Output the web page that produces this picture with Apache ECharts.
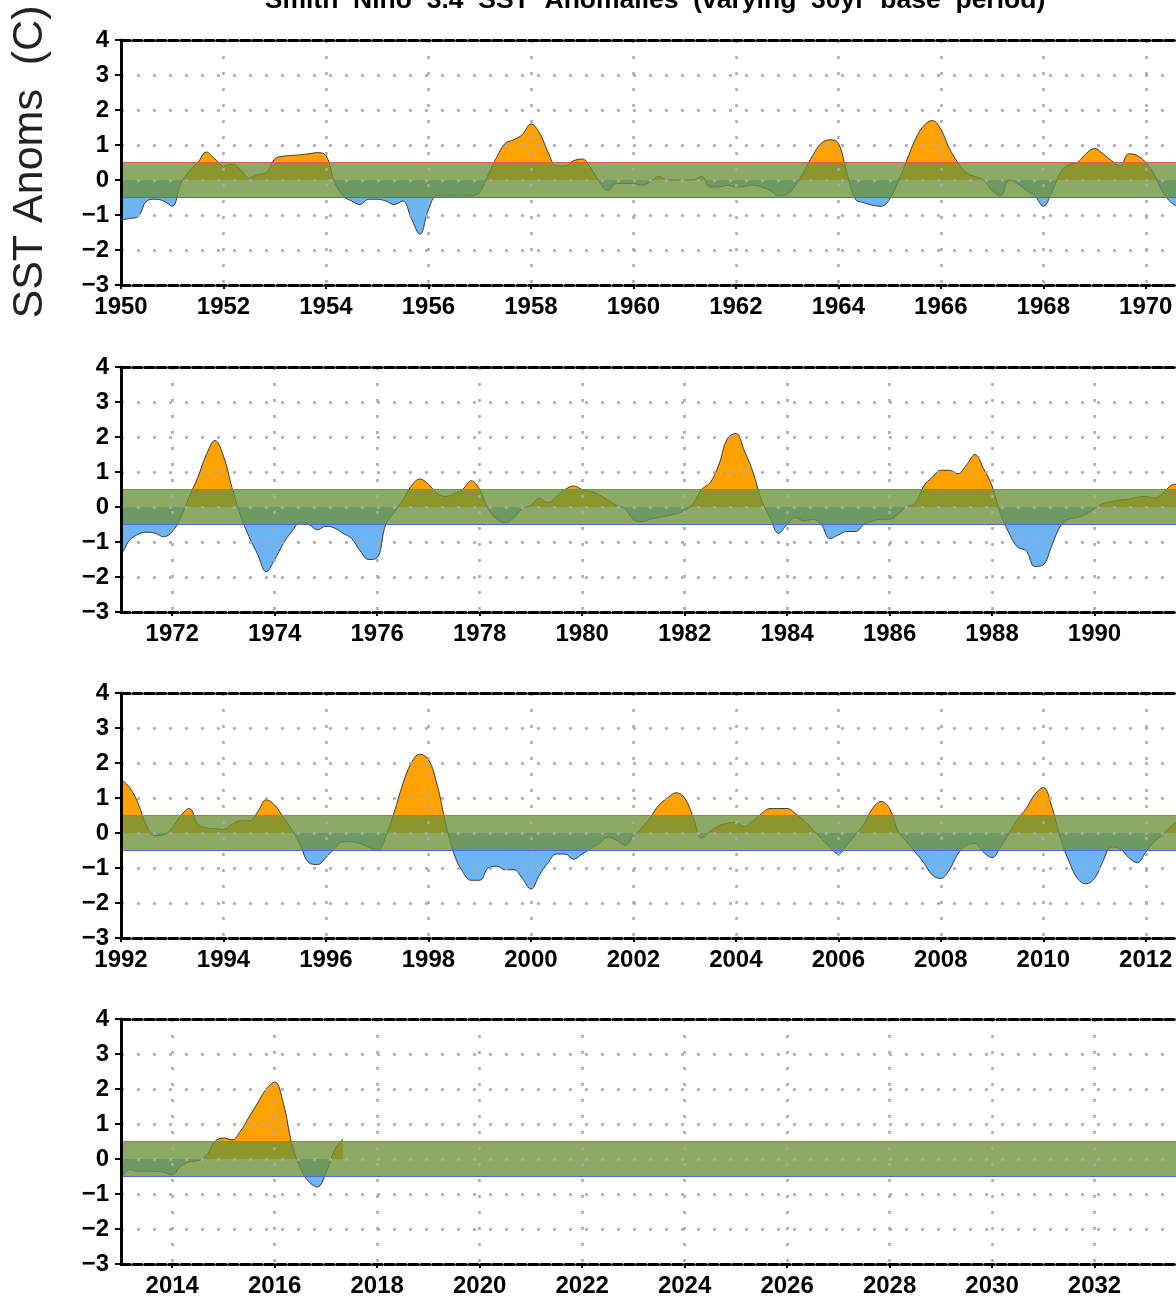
<!DOCTYPE html>
<html>
<head>
<meta charset="UTF-8">
<title>Smith Nino 3.4 SST Anomalies</title>
<script src="https://cdn.jsdelivr.net/npm/echarts@6/dist/echarts.min.js"></script>
<style>
  html, body { margin: 0; padding: 0; background: #fff; }
  #chart { width: 1176px; height: 1303px; }
</style>
</head>
<body>
<div id="chart"></div>
<script>
// Nino 3.4 SST anomalies (C), every two months (Jan, Mar, May, Jul, Sep, Nov)
var anom1950 = [
  -1.15, -1.1, -1.05, -0.6, -0.55, -0.6,   // 1950
  -0.75, -0.1, 0.25, 0.5, 0.8, 0.6,        // 1951
  0.4, 0.45, 0.3, 0.05, 0.15, 0.2,         // 1952
  0.6, 0.68, 0.7, 0.72, 0.75, 0.78,        // 1953
  0.7, -0.05, -0.45, -0.6, -0.7, -0.55,    // 1954
  -0.55, -0.6, -0.7, -0.6, -1.1, -1.55,    // 1955
  -0.85, -0.45, -0.45, -0.45, -0.45, -0.45,// 1956
  -0.35, 0.15, 0.65, 1.05, 1.15, 1.3,      // 1957
  1.6, 1.35, 0.8, 0.4, 0.4, 0.55,          // 1958
  0.6, 0.35, -0.05, -0.3, -0.1, -0.1,      // 1959
  -0.1, -0.15, -0.05, 0.1, 0.0, 0.0,       // 1960
  0.0, 0.0, 0.1, -0.2, -0.2, -0.15,        // 1961
  -0.2, -0.18, -0.15, -0.2, -0.3, -0.45,   // 1962
  -0.4, -0.15, 0.25, 0.7, 1.05, 1.15,      // 1963
  1.05, 0.2, -0.55, -0.65, -0.72, -0.75,   // 1964
  -0.55, -0.05, 0.55, 1.15, 1.55, 1.7,     // 1965
  1.45, 0.9, 0.5, 0.2, 0.1, 0.0,           // 1966
  -0.3, -0.45, 0.0, -0.1, -0.3, -0.45,     // 1967
  -0.75, -0.35, 0.2, 0.45, 0.5, 0.75,      // 1968
  0.9, 0.75, 0.55, 0.4, 0.75, 0.7,         // 1969
  0.5, 0.15, -0.35, -0.65, -0.8, -1.0      // 1970
];
var anom1971 = [
  -1.3, -0.95, -0.78, -0.72, -0.75, -0.85, // 1971
  -0.7, -0.3, 0.3, 0.85, 1.5, 1.9,         // 1972
  1.45, 0.55, -0.25, -0.85, -1.35, -1.85,  // 1973
  -1.5, -1.05, -0.7, -0.45, -0.5, -0.65,   // 1974
  -0.55, -0.6, -0.75, -0.9, -1.25, -1.5,   // 1975
  -1.45, -0.5, -0.15, 0.2, 0.6, 0.8,       // 1976
  0.65, 0.4, 0.3, 0.38, 0.5, 0.75,         // 1977
  0.5, -0.05, -0.35, -0.45, -0.3, -0.05,   // 1978
  0.05, 0.25, 0.12, 0.3, 0.5, 0.6,         // 1979
  0.5, 0.45, 0.35, 0.2, 0.05, -0.05,       // 1980
  -0.35, -0.42, -0.35, -0.3, -0.25, -0.2,  // 1981
  -0.1, 0.1, 0.5, 0.7, 1.2, 1.95,          // 1982
  2.1, 1.6, 1.0, 0.2, -0.3, -0.75,         // 1983
  -0.5, -0.3, -0.4, -0.35, -0.5, -0.9,     // 1984
  -0.8, -0.7, -0.7, -0.5, -0.4, -0.35,     // 1985
  -0.35, -0.2, 0.0, 0.1, 0.6, 0.85,        // 1986
  1.05, 1.05, 0.95, 1.2, 1.5, 1.1,         // 1987
  0.6, -0.2, -0.75, -1.15, -1.25, -1.7,    // 1988
  -1.65, -1.1, -0.55, -0.35, -0.3, -0.2,   // 1989
  -0.05, 0.1, 0.15, 0.2, 0.22, 0.28,       // 1990
  0.3, 0.25, 0.4, 0.62, 0.7, 1.1           // 1991
];
var anom1992 = [
  1.5, 1.3, 0.85, 0.2, -0.08, -0.05,       // 1992
  0.15, 0.5, 0.7, 0.25, 0.15, 0.12,        // 1993
  0.1, 0.25, 0.35, 0.35, 0.6, 0.95,        // 1994
  0.8, 0.45, 0.1, -0.35, -0.85, -0.9,      // 1995
  -0.7, -0.45, -0.25, -0.25, -0.3, -0.4,   // 1996
  -0.5, -0.1, 0.6, 1.4, 2.0, 2.25,         // 1997
  2.1, 1.4, 0.3, -0.6, -1.1, -1.35,        // 1998
  -1.35, -1.0, -0.95, -1.05, -1.05, -1.3,  // 1999
  -1.6, -1.2, -0.85, -0.6, -0.6, -0.75,    // 2000
  -0.6, -0.45, -0.3, -0.12, -0.2, -0.35,   // 2001
  -0.1, 0.15, 0.45, 0.8, 1.0, 1.15,        // 2002
  1.0, 0.45, -0.15, 0.05, 0.2, 0.28,       // 2003
  0.3, 0.18, 0.35, 0.55, 0.7, 0.7,         // 2004
  0.7, 0.55, 0.35, 0.1, -0.15, -0.4,       // 2005
  -0.6, -0.35, -0.05, 0.25, 0.7, 0.9,      // 2006
  0.7, 0.05, -0.25, -0.55, -0.85, -1.2,    // 2007
  -1.3, -1.05, -0.6, -0.35, -0.3, -0.55,   // 2008
  -0.7, -0.4, 0.0, 0.4, 0.7, 1.1,          // 2009
  1.3, 0.75, -0.15, -0.8, -1.3, -1.45,     // 2010
  -1.3, -0.8, -0.4, -0.45, -0.7, -0.85,    // 2011
  -0.55, -0.25, -0.05, 0.2, 0.35, -0.05    // 2012
];
var anom2013 = [
  -0.5, -0.3, -0.35, -0.35, -0.35, -0.38,  // 2013
  -0.45, -0.2, -0.08, -0.05, 0.1, 0.5,     // 2014
  0.6, 0.55, 0.8, 1.2, 1.6, 2.0,           // 2015
  2.2, 1.6, 0.45, -0.25, -0.65, -0.8,      // 2016
  -0.4, 0.25, 0.58                         // 2017 (Jan-May)
];

var panelStart = [1950, 1971, 1992, 2013];
var panelData = [anom1950, anom1971, anom1992, anom2013];
var panelYears = 21;
var samplesPerYear = 6;
var yearLabels = [
  [1950, 1952, 1954, 1956, 1958, 1960, 1962, 1964, 1966, 1968, 1970],
  [1972, 1974, 1976, 1978, 1980, 1982, 1984, 1986, 1988, 1990],
  [1992, 1994, 1996, 1998, 2000, 2002, 2004, 2006, 2008, 2010, 2012],
  [2014, 2016, 2018, 2020, 2022, 2024, 2026, 2028, 2030, 2032]
];
var bandLow = -0.5, bandHigh = 0.5;

// layout: the original figure is cropped on the right, so the grids run past the canvas
var panelTop = [40, 367, 693, 1019];
var panelHeight = 245;
var labelFont = "'Liberation Sans', Arial, Helvetica, sans-serif";

var allPoints = [];
panelData.forEach(function (arr, p) {
  arr.forEach(function (v, i) {
    allPoints.push([panelStart[p] + i / samplesPerYear, v]);
  });
});

function minusFmt(v) {
  return v < 0 ? '\u2212' + Math.abs(v) : String(v);
}

var grids = [], xAxes = [], yAxes = [], series = [];
var borderDash = { color: '#000', width: 3, type: [9, 3] };
var dotted = { color: '#aaa', width: 2.5, type: [3, 13] };

panelStart.forEach(function (start, i) {
  grids.push({
    left: 121, right: -21, top: panelTop[i], height: panelHeight,
    containLabel: false, outerBoundsMode: 'none'
  });
  xAxes.push({
    type: 'value', gridIndex: i, min: start, max: start + panelYears, position: 'bottom', z: 5,
    axisLine: { show: true, onZero: false, lineStyle: borderDash },
    axisTick: { show: true, length: 4, customValues: yearLabels[i], lineStyle: { color: '#000', width: 2 } },
    axisLabel: {
      customValues: yearLabels[i], formatter: function (v) { return String(v); },
      color: '#000', fontWeight: 'bold', fontSize: 24, fontFamily: labelFont, margin: 10
    },
    splitLine: { show: true, lineStyle: dotted }
  });
  xAxes.push({
    type: 'value', gridIndex: i, min: start, max: start + panelYears, position: 'top', z: 5,
    axisLine: { show: true, onZero: false, lineStyle: borderDash },
    axisTick: { show: false }, axisLabel: { show: false }, splitLine: { show: false }
  });
  yAxes.push({
    type: 'value', gridIndex: i, min: -3, max: 4, interval: 1, z: 5,
    axisLine: { show: true, onZero: false, lineStyle: { color: '#000', width: 3 } },
    axisTick: { show: true, length: 6, lineStyle: { color: '#000', width: 2 } },
    axisLabel: { formatter: minusFmt, color: '#000', fontWeight: 'bold', fontSize: 24, fontFamily: labelFont, margin: 12 },
    splitLine: { show: true, lineStyle: dotted }
  });
  series.push({
    type: 'line', xAxisIndex: 2 * i, yAxisIndex: i, data: allPoints, clip: true,
    smooth: 0.4, symbol: 'none', silent: true, z: 2,
    lineStyle: { color: '#3a3a3a', width: 1 },
    areaStyle: { opacity: 1 }
  });
});

panelStart.forEach(function (start, i) {
  series.push({
    type: 'custom', xAxisIndex: 2 * i, yAxisIndex: i, z: 3, silent: true,
    data: [[start, start + panelYears]],
    encode: { x: [0, 1] },
    renderItem: function (params, api) {
      var a = api.coord([api.value(0), bandHigh]);
      var b = api.coord([api.value(1), bandLow]);
      return {
        type: 'group',
        children: [
          { type: 'rect', shape: { x: a[0], y: a[1], width: b[0] - a[0], height: b[1] - a[1] },
            style: { fill: 'rgba(108,146,56,0.78)' } },
          { type: 'line', shape: { x1: a[0], y1: a[1], x2: b[0], y2: a[1] },
            style: { stroke: '#e0604a', lineWidth: 1 } },
          { type: 'line', shape: { x1: a[0], y1: b[1], x2: b[0], y2: b[1] },
            style: { stroke: '#4a6ae0', lineWidth: 1 } }
        ]
      };
    }
  });
});

var chart = echarts.init(document.getElementById('chart'));
chart.setOption({
  animation: false,
  backgroundColor: '#fff',
  grid: grids,
  xAxis: xAxes,
  yAxis: yAxes,
  visualMap: {
    type: 'piecewise', show: false, dimension: 1, seriesIndex: [0, 1, 2, 3],
    pieces: [
      { lte: 0, color: '#6cb4f4' },
      { gt: 0, lte: 5, color: '#ffa200' },
      { gt: 5, color: '#ffa200' }
    ]
  },
  graphic: [
    { type: 'text', x: 655, y: 1, silent: true,
      style: { text: 'Smith  Nino  3.4  SST  Anomalies  (varying  30yr  base  period)',
        font: "bold 26.5px " + labelFont, fill: '#000', align: 'center', verticalAlign: 'middle' } },
    { type: 'text', x: 30, y: 162, rotation: Math.PI / 2, silent: true,
      style: { text: 'SST Anoms  (C)', font: "43px 'Liberation Sans', Arial, sans-serif",
        fill: '#222', align: 'center', verticalAlign: 'middle' } }
  ],
  series: series
});
</script>
</body>
</html>
